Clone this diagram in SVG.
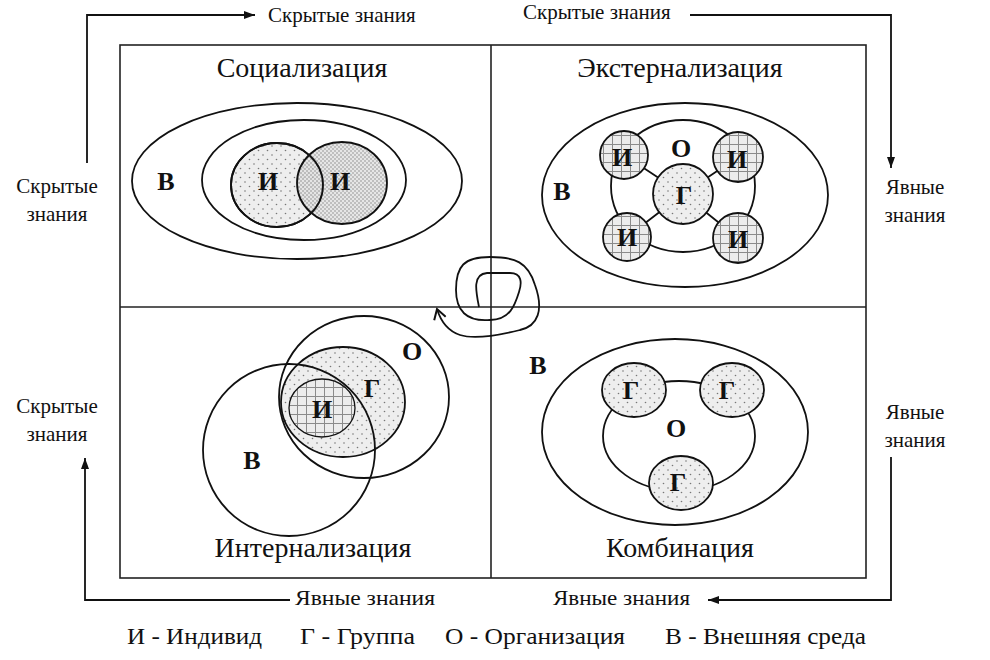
<svg xmlns="http://www.w3.org/2000/svg" width="990" height="660" viewBox="0 0 990 660">
<defs>
<style>
.ln{fill:none;stroke:#111;stroke-width:1.8}
.bx{fill:none;stroke:#222;stroke-width:1.6}
.t{font-family:"Liberation Serif","Times New Roman",serif;fill:#111}
.ttl{font-size:28px;text-anchor:middle}
.sm{font-size:21px}
.lb{font-size:26px;font-weight:bold;text-anchor:middle;dominant-baseline:central}
.lg{font-size:23px}
</style>
<pattern id="dots" width="9" height="9" patternUnits="userSpaceOnUse">
<rect width="9" height="9" fill="#eeeeee"/>
<circle cx="2" cy="2" r="0.8" fill="#777"/>
<circle cx="6.5" cy="6.5" r="0.8" fill="#777"/>
</pattern>
<pattern id="chk" width="4" height="4" patternUnits="userSpaceOnUse">
<rect width="4" height="4" fill="#e2e2e2"/>
<rect width="2" height="2" fill="#b4b4b4"/>
<rect x="2" y="2" width="2" height="2" fill="#b4b4b4"/>
</pattern>
<pattern id="grid" width="9" height="9" patternUnits="userSpaceOnUse">
<rect width="9" height="9" fill="#ececec"/>
<path d="M0,0.5H9M0.5,0V9" stroke="#8a8a8a" stroke-width="1"/>
</pattern>
<marker id="ar" markerWidth="12" markerHeight="10" refX="11" refY="5" orient="auto" markerUnits="userSpaceOnUse">
<path d="M0,1 L11,5 L0,9 Z" fill="#111"/>
</marker>
<marker id="ar2" markerWidth="14" markerHeight="14" refX="12" refY="7" orient="auto" markerUnits="userSpaceOnUse">
<path d="M2,1 L12,7 L2,13" fill="none" stroke="#111" stroke-width="2"/>
</marker>
</defs>
<rect width="990" height="660" fill="#ffffff"/>

<g id="connectors">
<path class="ln" d="M87,163 V15 H255" marker-end="url(#ar)" stroke-width="1.6"/>
<path class="ln" d="M690,15 H891 V168" marker-end="url(#ar)" stroke-width="1.6"/>
<path class="ln" d="M891,457 V600 H708" marker-end="url(#ar)" stroke-width="1.6"/>
<path class="ln" d="M290,600 H85 V458" marker-end="url(#ar)" stroke-width="1.6"/>
</g>

<g id="frame">
<rect class="bx" x="120" y="45" width="746" height="533"/>
<line class="bx" x1="491" y1="45" x2="491" y2="578"/>
<line class="bx" x1="120" y1="307" x2="866" y2="307"/>
</g>

<g id="labels">
<text class="t sm" x="268" y="22">Скрытые знания</text>
<text class="t sm" x="523" y="19">Скрытые знания</text>
<text class="t sm" x="57" y="193" text-anchor="middle">Скрытые</text>
<text class="t sm" x="57" y="221" text-anchor="middle">знания</text>
<text class="t sm" x="57" y="413" text-anchor="middle">Скрытые</text>
<text class="t sm" x="57" y="441" text-anchor="middle">знания</text>
<text class="t sm" x="915" y="194" text-anchor="middle">Явные</text>
<text class="t sm" x="915" y="222" text-anchor="middle">знания</text>
<text class="t sm" x="915" y="419" text-anchor="middle">Явные</text>
<text class="t sm" x="915" y="447" text-anchor="middle">знания</text>
<text class="t sm" x="295" y="605" textLength="140" lengthAdjust="spacingAndGlyphs">Явные  знания</text>
<text class="t sm" x="553" y="605" textLength="137" lengthAdjust="spacingAndGlyphs">Явные  знания</text>
</g>

<g id="socialization">
<text class="t ttl" x="302" y="77">Социализация</text>
<ellipse class="ln" cx="297" cy="181" rx="165" ry="78"/>
<ellipse class="ln" cx="304" cy="180" rx="102" ry="60"/>
<ellipse cx="277" cy="185" rx="46" ry="42" fill="url(#dots)" stroke="#111" stroke-width="1.8"/>
<ellipse cx="342" cy="183" rx="45" ry="41" fill="url(#chk)" fill-opacity="0.85" stroke="#111" stroke-width="1.8"/>
<ellipse class="ln" cx="277" cy="185" rx="46" ry="42" stroke-width="1.2"/>
<text class="t lb" x="166" y="181">В</text>
<text class="t lb" x="268" y="181">И</text>
<text class="t lb" x="340" y="181">И</text>
</g>

<g id="externalization">
<text class="t ttl" x="680" y="77">Экстернализация</text>
<ellipse class="ln" cx="685" cy="195" rx="143" ry="92"/>
<ellipse class="ln" cx="683" cy="186" rx="72" ry="66"/>
<path class="ln" d="M683,194 L624,155 M683,194 L738,157 M683,194 L627,237 M683,194 L738,238" stroke-width="1.5"/>
<circle cx="683" cy="194" r="30" fill="url(#dots)" stroke="#111" stroke-width="1.8"/>
<circle cx="624" cy="155" r="24" fill="url(#grid)" stroke="#111" stroke-width="1.8"/>
<circle cx="738" cy="157" r="25" fill="url(#grid)" stroke="#111" stroke-width="1.8"/>
<circle cx="627" cy="237" r="24" fill="url(#grid)" stroke="#111" stroke-width="1.8"/>
<circle cx="738" cy="238" r="25" fill="url(#grid)" stroke="#111" stroke-width="1.8"/>
<text class="t lb" x="681" y="148">О</text>
<text class="t lb" x="562" y="191">В</text>
<text class="t lb" x="684" y="195">Г</text>
<text class="t lb" x="622" y="157">И</text>
<text class="t lb" x="737" y="159">И</text>
<text class="t lb" x="627" y="237">И</text>
<text class="t lb" x="738" y="239">И</text>
</g>

<g id="internalization">
<text class="t ttl" x="313" y="557">Интернализация</text>
<ellipse cx="343" cy="402" rx="62" ry="55" fill="url(#dots)" stroke="none"/>
<ellipse cx="322" cy="408" rx="33" ry="29" fill="url(#grid)" stroke="#111" stroke-width="1.3"/>
<ellipse class="ln" cx="364" cy="397" rx="85" ry="81"/>
<circle class="ln" cx="289" cy="450" r="86"/>
<ellipse class="ln" cx="343" cy="402" rx="62" ry="55"/>
<text class="t lb" x="412" y="351">О</text>
<text class="t lb" x="372" y="388">Г</text>
<text class="t lb" x="322" y="409">И</text>
<text class="t lb" x="252" y="460">В</text>
</g>

<g id="combination">
<text class="t ttl" x="680" y="557">Комбинация</text>
<ellipse class="ln" cx="675" cy="432" rx="133" ry="93"/>
<ellipse class="ln" cx="679" cy="436" rx="76" ry="55"/>
<ellipse cx="634" cy="390" rx="32" ry="27" fill="url(#dots)" stroke="#111" stroke-width="1.8"/>
<ellipse cx="732" cy="390" rx="32" ry="27" fill="url(#dots)" stroke="#111" stroke-width="1.8"/>
<ellipse cx="681" cy="483" rx="32" ry="27" fill="url(#dots)" stroke="#111" stroke-width="1.8"/>
<text class="t lb" x="538" y="365">В</text>
<text class="t lb" x="676" y="428">О</text>
<text class="t lb" x="631" y="390">Г</text>
<text class="t lb" x="727" y="390">Г</text>
<text class="t lb" x="678" y="482">Г</text>
</g>

<g id="spiral">
<path class="ln" stroke-width="2.6" marker-end="url(#ar2)" d="M479,307 C476,292 472,274 487,273 L510,273 C522,273 522,283 519,292 C515,305 510,320 490,320 C466,322 456,310 456,290 C456,266 464,257 490,257 C515,257 528,262 535,285 C544,310 538,326 520,330 C500,335 476,340 460,335 C448,331 441,322 437,309"/>
</g>

<g id="legend">
<text class="t lg" x="127" y="644" textLength="135" lengthAdjust="spacingAndGlyphs">И - Индивид</text>
<text class="t lg" x="300" y="644" textLength="115" lengthAdjust="spacingAndGlyphs">Г - Группа</text>
<text class="t lg" x="445" y="644" textLength="180" lengthAdjust="spacingAndGlyphs">О - Организация</text>
<text class="t lg" x="665" y="644" textLength="201" lengthAdjust="spacingAndGlyphs">В - Внешняя среда</text>
</g>
</svg>
